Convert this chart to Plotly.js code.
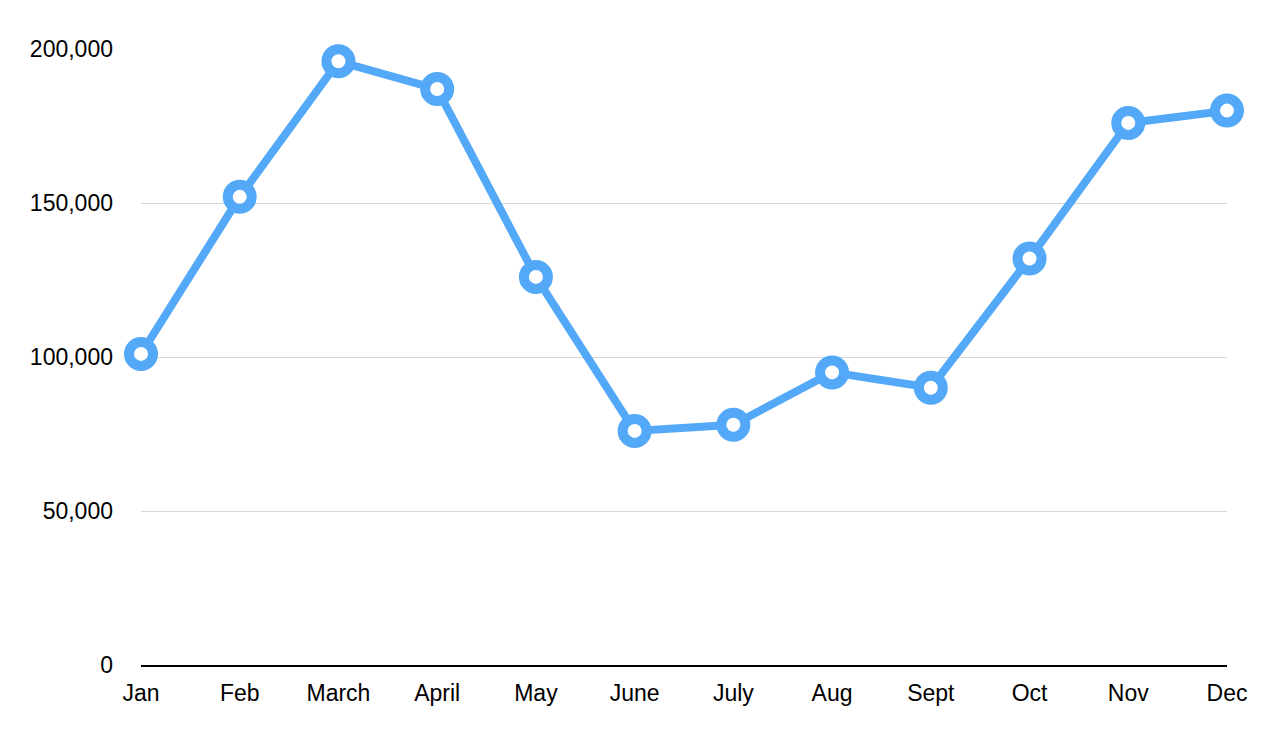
<!DOCTYPE html>
<html>
<head>
<meta charset="utf-8">
<script src="https://cdn.plot.ly/plotly-3.0.1.min.js"></script>
<style>html,body{margin:0;padding:0;background:#fff;}#chart{width:1280px;height:754px;}</style>
</head>
<body>
<div id="chart"></div>
<script>
const months = ["Jan","Feb","March","April","May","June","July","Aug","Sept","Oct","Nov","Dec"];
const values = [101000,152000,196000,187000,126000,76000,78000,95000,90000,132000,176000,180000];
const yTicks = [0,50000,100000,150000,200000];
const yTickLabels = ["0","50,000","100,000","150,000","200,000"];

const trace = {
  x: months,
  y: values,
  type: "scatter",
  mode: "lines+markers",
  line: {color: "#53a8f7", width: 8},
  marker: {size: 24, color: "#ffffff", line: {color: "#53a8f7", width: 10}},
  cliponaxis: false,
  hoverinfo: "x+y"
};

const layout = {
  width: 1280, height: 754,
  margin: {l: 141, r: 53, t: 49, b: 89},
  paper_bgcolor: "#ffffff",
  plot_bgcolor: "#ffffff",
  showlegend: false,
  font: {family: "Liberation Sans, Arial, sans-serif", size: 23, color: "#000000"},
  xaxis: {
    type: "category",
    range: [0, 11],
    showgrid: false,
    showline: true,
    linecolor: "#000000",
    linewidth: 2,
    ticks: "",
    zeroline: false,
    ticklabelstandoff: 6,
    tickfont: {size: 23, color: "#000000"}
  },
  yaxis: {
    range: [0, 200000],
    tickvals: yTicks,
    ticktext: yTickLabels,
    showgrid: true,
    gridcolor: "#d6d6d6",
    gridwidth: 1,
    zeroline: false,
    showline: false,
    ticks: "",
    ticklabelstandoff: 27,
    tickfont: {size: 23, color: "#000000"}
  }
};

Plotly.newPlot("chart", [trace], layout, {displayModeBar: false, staticPlot: true});
</script>
</body>
</html>
